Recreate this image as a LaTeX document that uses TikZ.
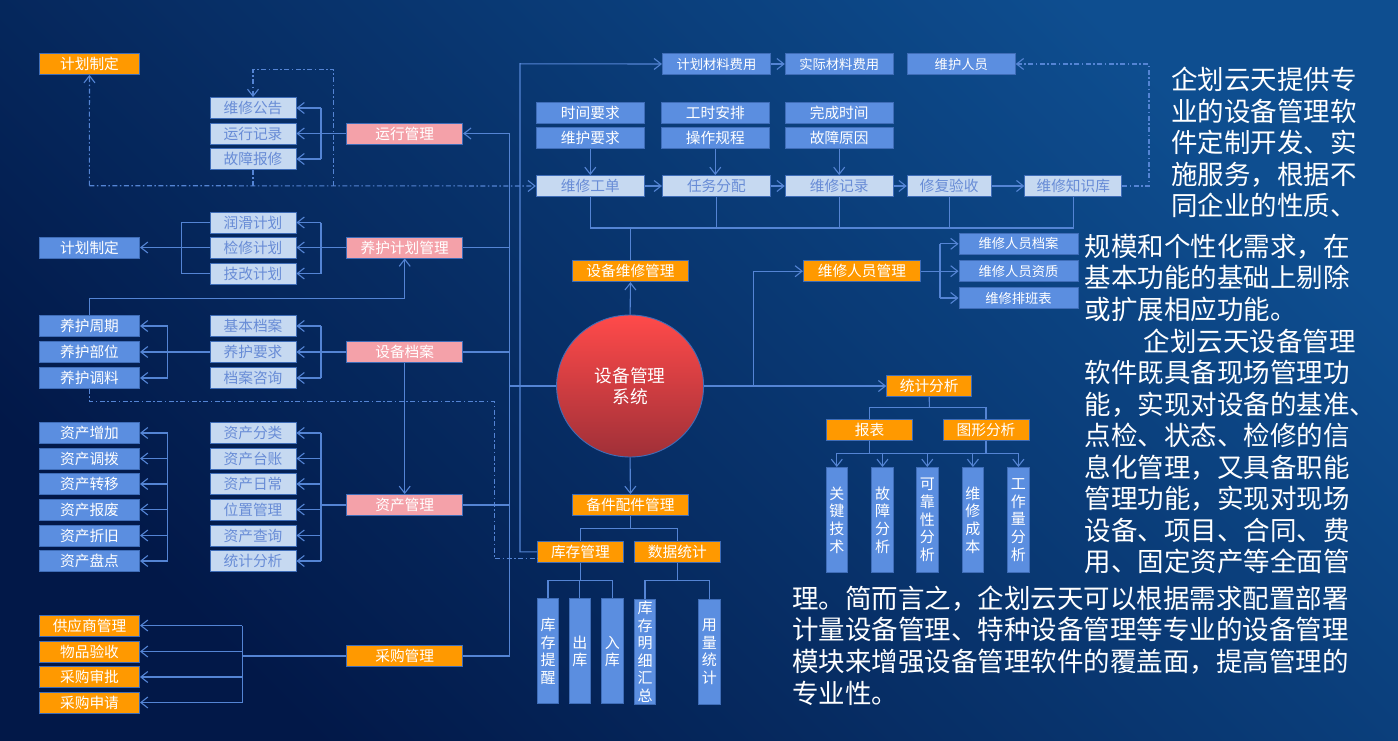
\documentclass[tikz,border=0pt]{standalone}
\usepackage{fontspec}
\setmainfont{Noto Sans CJK SC}
\usetikzlibrary{arrows.meta,shapes.geometric}
\definecolor{bgl}{RGB}{14,78,144}
\definecolor{bgd}{RGB}{2,24,72}
\definecolor{lnc}{RGB}{84,132,212}
\definecolor{bord}{RGB}{63,109,184}
\definecolor{orng}{RGB}{255,153,0}
\definecolor{pnk}{RGB}{244,161,169}
\definecolor{lblue}{RGB}{198,217,241}
\definecolor{ltxt}{RGB}{104,140,214}
\definecolor{mblue}{RGB}{91,142,224}
\definecolor{cirt}{RGB}{255,74,74}
\definecolor{cirb}{RGB}{160,48,56}
\newcommand\fz[1]{\fontsize{#1}{#1}\selectfont}
\begin{document}
\begin{tikzpicture}[x=1pt,y=-1pt,
 every node/.style={inner sep=0pt},
 bx/.style={draw=bord, line width=0.9pt, minimum height=21pt, text height=12.2pt, text depth=1pt, font=\fz{14.7}, text=white},
 sm/.style={font=\fz{13.3}, text height=11pt, text depth=0.9pt},
 ob/.style={bx, fill=orng},
 pb/.style={bx, fill=pnk},
 lb/.style={bx, fill=lblue, text=ltxt},
 mb/.style={bx, fill=mblue},
 wa/.style={minimum width=100pt},
 wb/.style={minimum width=86pt},
 wc/.style={minimum width=116pt},
 wd/.style={minimum width=108pt},
 vb/.style={draw=bord, line width=0.9pt, fill=mblue, text=white, minimum width=21.5pt, minimum height=105pt, align=center, font=\fontsize{15}{17.6}\selectfont},
 ln/.style={draw=lnc, line width=1.1pt},
 arr/.style={ln, -{Straight Barb[length=7pt,width=11pt]}},
 dd/.style={ln, dash pattern=on 5pt off 2.5pt on 1.5pt off 2.5pt},
 para/.style={anchor=west, text=white, font=\fz{26.5}, text height=22pt, text depth=1.9pt}
]
\useasboundingbox (0,0) rectangle (1398,741);
\shade[top color=bgl, bottom color=bgd, shading angle=-45] (0,0) rectangle (1398,741);

% ---------- left column ----------
\node[ob,wa] (jh1) at (89.5,64) {计划制定};
\node[mb,wa] (jh2) at (89.5,247.5) {计划制定};
\node[mb,wa] (yhzq) at (89.5,326) {养护周期};
\node[mb,wa] (yhbw) at (89.5,352) {养护部位};
\node[mb,wa] (yhtl) at (89.5,378) {养护调料};
\node[mb,wa] (za1) at (89.5,433) {资产增加};
\node[mb,wa] (za2) at (89.5,458.5) {资产调拨};
\node[mb,wa] (za3) at (89.5,484) {资产转移};
\node[mb,wa] (za4) at (89.5,509.5) {资产报废};
\node[mb,wa] (za5) at (89.5,535.5) {资产折旧};
\node[mb,wa] (za6) at (89.5,561) {资产盘点};
\node[ob,wa] (cg1) at (89.5,625.5) {供应商管理};
\node[ob,wa] (cg2) at (89.5,651.5) {物品验收};
\node[ob,wa] (cg3) at (89.5,677) {采购审批};
\node[ob,wa] (cg4) at (89.5,702.5) {采购申请};

% ---------- second column ----------
\node[lb,wb] (wxgg) at (253,108) {维修公告};
\node[lb,wb] (yxjl) at (253,133.5) {运行记录};
\node[lb,wb] (gzbx) at (253,159) {故障报修};
\node[lb,wb] (rhjh) at (253,222.5) {润滑计划};
\node[lb,wb] (jxjh) at (253,247.5) {检修计划};
\node[lb,wb] (tgjh) at (253,273.5) {技改计划};
\node[lb,wb] (jbda) at (253,326) {基本档案};
\node[lb,wb] (yhyq) at (253,352) {养护要求};
\node[lb,wb] (dazx) at (253,378) {档案咨询};
\node[lb,wb] (zb1) at (253,433) {资产分类};
\node[lb,wb] (zb2) at (253,458.5) {资产台账};
\node[lb,wb] (zb3) at (253,484) {资产日常};
\node[lb,wb] (zb4) at (253,509.5) {位置管理};
\node[lb,wb] (zb5) at (253,535.5) {资产查询};
\node[lb,wb] (zb6) at (253,561) {统计分析};

% ---------- third column ----------
\node[pb,wc] (yxgl) at (404.7,133.5) {运行管理};
\node[pb,wc] (yhjhgl) at (404.7,247.5) {养护计划管理};
\node[pb,wc] (sbda) at (404.7,352) {设备档案};
\node[pb,wc] (zcgl) at (404.7,505) {资产管理};
\node[ob,wc] (cggl) at (404.7,656) {采购管理};

% ---------- top area ----------
\node[mb,wd,sm] (jhcl) at (716.4,64) {计划材料费用};
\node[mb,wd,sm] (sjcl) at (839.2,64) {实际材料费用};
\node[mb,wd,sm] (whry) at (961.3,64) {维护人员};
\node[mb,wd] (sjyq) at (590.3,112.8) {时间要求};
\node[mb,wd] (wfyq) at (590.3,138) {维护要求};
\node[mb,wd] (gsap) at (715.3,112.8) {工时安排};
\node[mb,wd] (czgc) at (715.3,138) {操作规程};
\node[mb,wd] (wcsj) at (839.2,112.8) {完成时间};
\node[mb,wd] (gzyy) at (839.2,138) {故障原因};
\node[lb,wd] (wxgd) at (590.3,186) {维修工单};
\node[lb,wd] (rwfp) at (716.4,186) {任务分配};
\node[lb,wd] (wxjl) at (839.2,186) {维修记录};
\node[lb,minimum width=84pt] (xfys) at (949.2,186) {修复验收};
\node[lb,minimum width=97pt] (wxzsk) at (1073.3,186) {维修知识库};

\node[ob,wc] (sbwxgl) at (630.5,271.2) {设备维修管理};
\node[ob,minimum width=117pt] (wxrygl) at (861.9,271.2) {维修人员管理};
\node[mb,sm,minimum width=119pt] (rd1) at (1018.5,243.8) {维修人员档案};
\node[mb,sm,minimum width=119pt] (rd2) at (1018.5,271.2) {维修人员资质};
\node[mb,sm,minimum width=119pt] (rd3) at (1018.5,298) {维修排班表};

% ---------- centre ----------
\node[ellipse, draw=bord, line width=0.9pt, top color=cirt, bottom color=cirb,
      minimum width=147pt, minimum height=142pt, align=center, text=white,
      font=\fontsize{17.7}{20.7}\selectfont] (circ) at (630.1,386) {设备管理\\系统};

\node[ob,minimum width=85pt] (tjfx) at (929.2,385.8) {统计分析};
\node[ob,wb] (bb) at (869.5,429.8) {报表};
\node[ob,wb] (txfx) at (986,429.8) {图形分析};
\node[vb] (v1) at (836.8,520) {关\\键\\技\\术};
\node[vb] (v2) at (882.5,520) {故\\障\\分\\析};
\node[vb] (v3) at (927.3,520) {可\\靠\\性\\分\\析};
\node[vb] (v4) at (972.9,520) {维\\修\\成\\本};
\node[vb] (v5) at (1018.4,520) {工\\作\\量\\分\\析};

\node[ob,wc] (bjpj) at (630.4,505) {备件配件管理};
\node[ob,wb] (kcgl) at (580.4,551.8) {库存管理};
\node[ob,wb] (sjtj) at (677.3,551.8) {数据统计};
\node[vb] (k1) at (548,651.3) {库\\存\\提\\醒};
\node[vb] (k2) at (579.9,651.3) {出\\库};
\node[vb] (k3) at (612.3,651.3) {入\\库};
\node[vb] (k4) at (645,651.8) {库\\存\\明\\细\\汇\\总};
\node[vb] (k5) at (709.3,651.8) {用\\量\\统\\计};

% ---------- trunk lines ----------
\coordinate (t1) at (509.3,133.5);
\draw[arr] (cggl.east) -| (t1) -- (yxgl.east);
\draw[ln] (yhjhgl.east) -- (yhjhgl.east -| t1);
\draw[ln] (sbda.east) -- (sbda.east -| t1);
\draw[ln] (zcgl.east) -- (zcgl.east -| t1);
\draw[ln] (circ.west) -- (circ.west -| t1);
\coordinate (t2) at (520,63.8);
\draw[arr] (kcgl.west) -| (t2) -- (jhcl.west);
\draw[arr] (jhcl) -- (sjcl);

% ---------- brackets left ----------
\draw[ln] (yxgl.west) -- (321,133.5) coordinate (b1);
\draw[ln] (b1 |- wxgg.east) -- (b1 |- gzbx.east);
\foreach \n in {wxgg,yxjl,gzbx} \draw[arr] (b1 |- \n.east) -- (\n.east);

\draw[ln] (yhjhgl.west) -- (321,247.5) coordinate (b2);
\draw[ln] (b2 |- rhjh.east) -- (b2 |- tgjh.east);
\foreach \n in {rhjh,jxjh,tgjh} \draw[arr] (b2 |- \n.east) -- (\n.east);
\coordinate (b3) at (181.3,247.5);
\draw[ln] (rhjh.west) -| (b3) |- (tgjh.west);
\draw[arr] (jxjh.west) -- (jh2.east);

\draw[ln] (sbda.west) -- (321,352) coordinate (b4);
\draw[ln] (b4 |- jbda.east) -- (b4 |- dazx.east);
\foreach \n in {jbda,yhyq,dazx} \draw[arr] (b4 |- \n.east) -- (\n.east);
\draw[ln] (yhyq.west) -- (167.7,352) coordinate (b5);
\draw[ln] (b5 |- yhzq.east) -- (b5 |- yhtl.east);
\foreach \n in {yhzq,yhbw,yhtl} \draw[arr] (b5 |- \n.east) -- (\n.east);

\draw[ln] (zcgl.west) -- (321,505) coordinate (b6);
\draw[ln] (b6 |- zb1.east) -- (b6 |- zb6.east);
\foreach \n in {zb1,zb2,zb3,zb4,zb5,zb6} \draw[arr] (b6 |- \n.east) -- (\n.east);
\coordinate (b7) at (167.7,497);
\draw[ln] (b7 |- za1.east) -- (b7 |- za6.east);
\foreach \n in {za1,za2,za3,za4,za5,za6} \draw[arr] (b7 |- \n.east) -- (\n.east);

\draw[ln] (cggl.west) -- (242.3,656) coordinate (b8);
\draw[ln] (b8 |- cg1.east) -- (b8 |- cg4.east);
\foreach \n in {cg1,cg2,cg3,cg4} \draw[arr] (b8 |- \n.east) -- (\n.east);

\coordinate (c1) at (404.7,298.7);
\draw[arr] (yhzq.north) |- (c1) -- (yhjhgl.south);
\draw[arr] (sbda.south) -- (zcgl.north);

% ---------- dash-dot lines ----------
\coordinate (d1) at (89.3,185.7);
\coordinate (d2) at (333.7,185.7);
\coordinate (d3) at (333.7,69.3);
\coordinate (d4) at (253,69.3);
\draw[dd,-{Straight Barb[length=7pt,width=11pt]}] (d1) -- (jh1.south);
\draw[dd,-{Straight Barb[length=7pt,width=11pt]}] (d1) -- (wxgd.west);
\draw[dd] (gzbx.south) -- (gzbx.south |- d1);
\draw[dd,-{Straight Barb[length=7pt,width=11pt]}] (d2) -- (d3) -- (d4) -- (wxgg.north);
\coordinate (d5) at (494.3,401.7);
\coordinate (d6) at (537.5,558.3);
\draw[dd] (yhtl.south) |- (d5) |- (d6);
\coordinate (d7) at (1149,64);
\draw[dd,-{Straight Barb[length=7pt,width=11pt]}] (wxzsk.east) -| (d7) -- (whry.east);

% ---------- maintenance flow ----------
\draw[arr] (wfyq.south) -- (wfyq.south |- wxgd.north);
\draw[arr] (czgc.south) -- (czgc.south |- rwfp.north);
\draw[arr] (gzyy.south) -- (gzyy.south |- wxjl.north);
\draw[arr] (wxgd) -- (rwfp);
\draw[arr] (rwfp) -- (wxjl);
\draw[arr] (wxjl) -- (xfys);
\draw[arr] (xfys) -- (wxzsk);
\coordinate (bus) at (630.1,228);
\draw[ln] (wxgd.south) |- (wxzsk.south |- bus) -- (wxzsk.south);
\foreach \n in {rwfp,wxjl,xfys} \draw[ln] (\n.south) -- (\n.south |- bus);
\draw[ln] (sbwxgl.north) -- (sbwxgl.north |- bus);
\draw[arr] (circ.north) -- (sbwxgl.south);

\coordinate (c2) at (753.3,386);
\draw[arr] (circ.east) -- (circ.east -| tjfx.west);
\draw[arr] (c2) |- (wxrygl.west);
\draw[ln] (wxrygl.east) -- (940,271.2) coordinate (b9);
\draw[ln] (b9 |- rd1.west) -- (b9 |- rd3.west);
\foreach \n in {rd1,rd2,rd3} \draw[arr] (b9 |- \n.west) -- (\n.west);

% ---------- statistics ----------
\coordinate (s1) at (929.4,407.3);
\draw[ln] (tjfx.south) -- (s1);
\draw[ln] (bb.north) -- (bb.north |- s1) -- (txfx.north |- s1) -- (txfx.north);
\coordinate (s2) at (929.4,453.3);
\draw[ln] (bb.south) -- (bb.south |- s2);
\draw[ln] (txfx.south) -- (txfx.south |- s2);
\draw[ln] (v1.north |- s2) -- (v5.north |- s2);
\foreach \n in {v1,v2,v3,v4,v5} \draw[arr] (\n.north |- s2) -- (\n.north);

% ---------- spare parts ----------
\draw[arr] (circ.south) -- (bjpj.north);
\coordinate (s3) at (630.4,528.3);
\draw[ln] (bjpj.south) -- (s3);
\draw[ln] (kcgl.north) -- (kcgl.north |- s3) -- (sjtj.north |- s3) -- (sjtj.north);
\coordinate (s4) at (630.4,580.3);
\draw[ln] (kcgl.south) -- (kcgl.south |- s4);
\draw[ln] (k1.north) -- (k1.north |- s4) -- (k3.north |- s4) -- (k3.north);
\draw[ln] (k2.north) -- (k2.north |- s4);
\draw[ln] (sjtj.south) -- (sjtj.south |- s4);
\draw[ln] (k4.north) -- (k4.north |- s4) -- (k5.north |- s4) -- (k5.north);

% ---------- paragraph ----------
\node[para] (p1) at (1171,79.5) {企划云天提供专};
\node[para] (p2) at (1171,111) {业的设备管理软};
\node[para] (p3) at (1171,142.5) {件定制开发、实};
\node[para] (p4) at (1171,174) {施服务，根据不};
\node[para] (p5) at (1171,205.5) {同企业的性质、};
\node[para] (p6) at (1084.3,246) {规模和个性化需求，在};
\node[para] (p7) at (1084.3,277.5) {基本功能的基础上剔除};
\node[para] (p8) at (1084.3,309) {或扩展相应功能。};
\node[para] (p9) at (1143.4,341) {企划云天设备管理};
\node[para] (p10) at (1084.3,372.5) {软件既具备现场管理功};
\node[para] (p11) at (1084.3,404) {能，实现对设备的基准、};
\node[para] (p12) at (1084.3,435.5) {点检、状态、检修的信};
\node[para] (p13) at (1084.3,467) {息化管理，又具备职能};
\node[para] (p14) at (1084.3,498.5) {管理功能，实现对现场};
\node[para] (p15) at (1084.3,530) {设备、项目、合同、费};
\node[para] (p16) at (1084.3,561.5) {用、固定资产等全面管};
\node[para] (p17) at (791.8,598) {理。简而言之，企划云天可以根据需求配置部署};
\node[para] (p18) at (791.8,629.7) {计量设备管理、特种设备管理等专业的设备管理};
\node[para] (p19) at (791.8,661.3) {模块来增强设备管理软件的覆盖面，提高管理的};
\node[para] (p20) at (791.8,693) {专业性。};
\end{tikzpicture}
\end{document}
